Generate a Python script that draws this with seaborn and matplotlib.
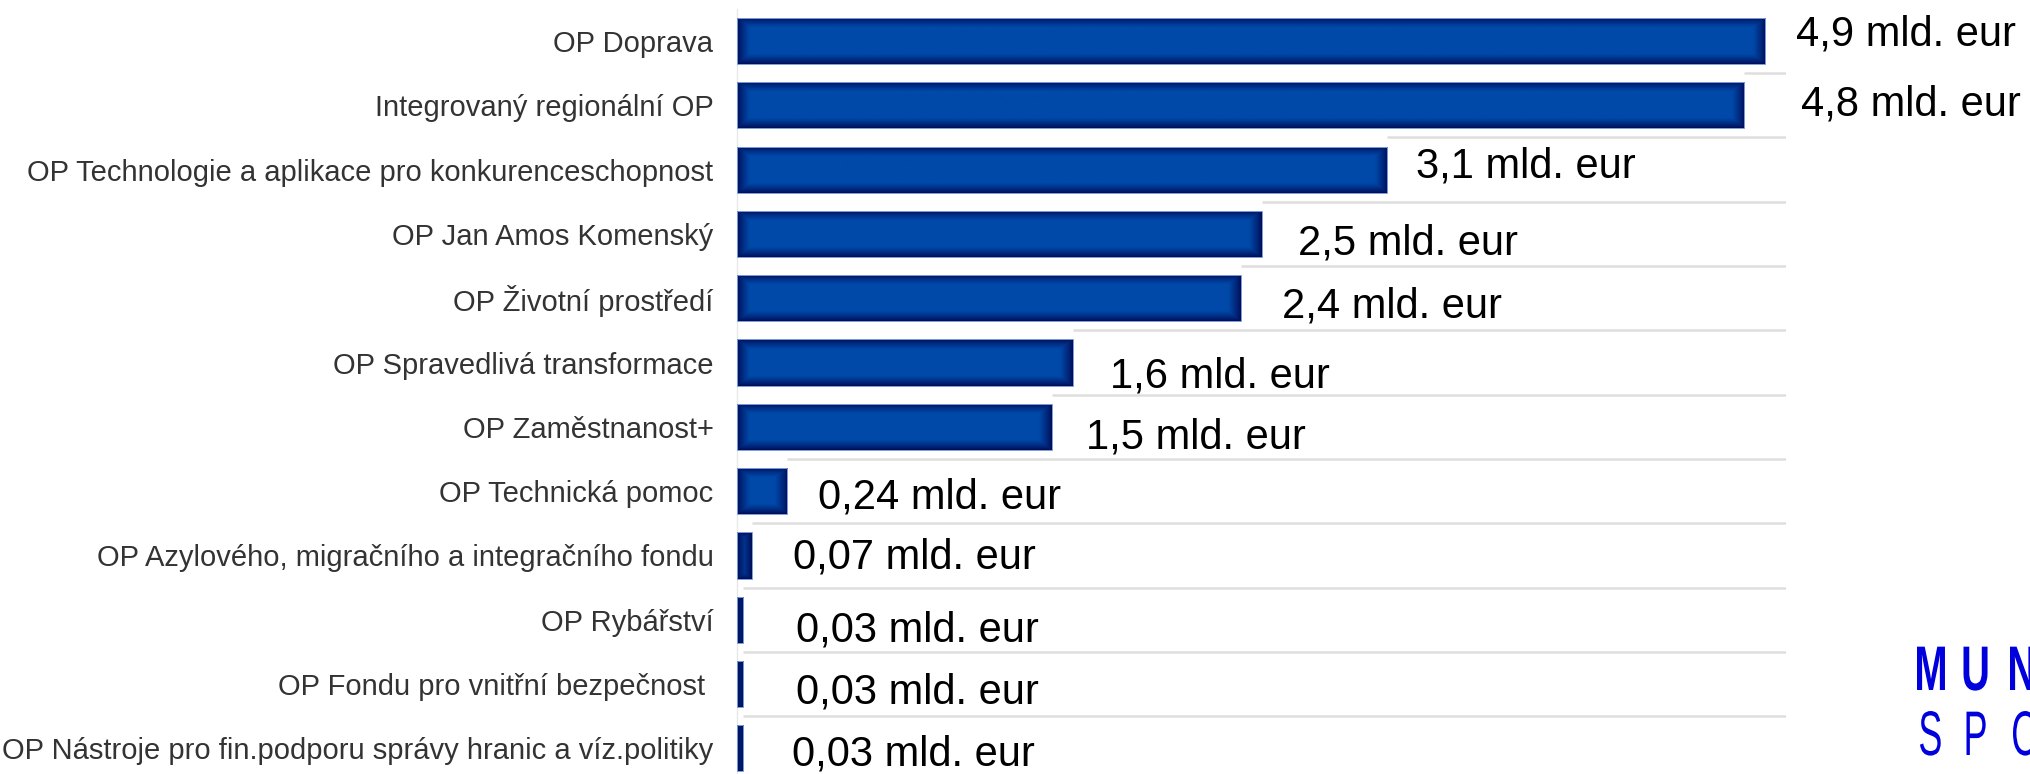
import numpy as np
import matplotlib
matplotlib.use("Agg")
import matplotlib.pyplot as plt
import seaborn as sns
from matplotlib.colors import to_rgb
from matplotlib.textpath import TextPath
from matplotlib.patches import PathPatch
from matplotlib.font_manager import FontProperties
from matplotlib.transforms import Affine2D

programy = [
    "OP Doprava",
    "Integrovaný regionální OP",
    "OP Technologie a aplikace pro konkurenceschopnost",
    "OP Jan Amos Komenský",
    "OP Životní prostředí",
    "OP Spravedlivá transformace",
    "OP Zaměstnanost+",
    "OP Technická pomoc",
    "OP Azylového, migračního a integračního fondu",
    "OP Rybářství",
    "OP Fondu pro vnitřní bezpečnost ",
    "OP Nástroje pro fin.podporu správy hranic a víz.politiky",
]
castky = [4.9, 4.8, 3.1, 2.5, 2.4, 1.6, 1.5, 0.24, 0.07, 0.03, 0.03, 0.03]
popisky = [
    "4,9 mld. eur", "4,8 mld. eur", "3,1 mld. eur", "2,5 mld. eur",
    "2,4 mld. eur", "1,6 mld. eur", "1,5 mld. eur", "0,24 mld. eur",
    "0,07 mld. eur", "0,03 mld. eur", "0,03 mld. eur", "0,03 mld. eur",
]

# posun popisku (px): mezera za koncem sloupce, baseline pod stredem sloupce
posun_x = [31, 57, 29, 37, 41, 37, 34, 31, 41, 53, 53, 49]
posun_y = [4, 10, 8, 21, 19, 25, 22, 17, 13, 22, 19, 17]

W, H = 2031, 774
X_MAX = 5.0

sns.set_style("white")
plt.rcParams["font.family"] = ["Liberation Sans", "DejaVu Sans"]

fig = plt.figure(figsize=(W / 100, H / 100), dpi=100)
ax = fig.add_axes([737 / W, (H - 780.5) / H, (1786 - 737) / W, 771.6 / H])

sns.barplot(x=castky, y=programy, orient="h", color="#0047a5", width=0.72,
            ax=ax, zorder=2)
ax.set_xlim(0, X_MAX)
ax.set_ylim(len(programy) - 0.5, -0.5)

# prechod barvy ve sloupcich (tmave okraje, svetlejsi stred)
p0 = ax.transData.transform((0, 0))
sx = ax.transData.transform((1, 0))[0] - p0[0]
sy = abs(ax.transData.transform((0, 1))[1] - p0[1])
tmava = np.array(to_rgb("#000a55"))
svetla = np.array(to_rgb("#0049a9"))
for p in list(ax.patches):
    x, y, w, h = p.get_x(), p.get_y(), p.get_width(), p.get_height()
    nx = max(int(round(w * sx)), 2)
    ny = max(int(round(h * sy)), 2)
    xx = np.arange(nx) + 0.5
    yy = np.arange(ny) + 0.5
    dx = np.minimum(xx, nx - xx)[None, :] / 13.0
    dy = np.minimum(yy, ny - yy)[:, None] / 10.0
    t = np.clip(np.minimum(dx, dy), 0, 1) ** 0.8
    img = tmava + (svetla - tmava) * t[..., None]
    im = ax.imshow(img, extent=(x, x + w, y + h, y), aspect="auto",
                   zorder=3, interpolation="bilinear")
    im.set_clip_path(p)
    # tenky svetly obrys nad prechodem
    p.set_facecolor("none")
    p.set_edgecolor("#7f9bd6")
    p.set_linewidth(0.7)
    p.set_zorder(4)

ax.set_xlim(0, X_MAX)
ax.set_ylim(len(programy) - 0.5, -0.5)

# mrizka mezi kategoriemi, viditelna az za koncem sloupce pod ni
for i in range(len(castky) - 1):
    ax.hlines(i + 0.5, castky[i + 1], X_MAX, color="#dedede", lw=1.8, zorder=1)

ax.set_yticks(np.arange(len(programy) - 1) + 0.5, minor=True)
ax.tick_params(axis="y", which="minor", length=17, width=1.8,
               color="#dedede", direction="out")
ax.tick_params(axis="y", which="major", length=0, pad=17,
               labelsize=21, labelcolor="#333333")
ax.set_xticks([])
ax.set_xlabel("")
ax.set_ylabel("")
for s in ["top", "right", "bottom"]:
    ax.spines[s].set_visible(False)
ax.spines["left"].set_color("#e8e8e8")
ax.spines["left"].set_linewidth(1)

for i, (v, s) in enumerate(zip(castky, popisky)):
    ax.annotate(s, xy=(v, i), xytext=(posun_x[i] * 0.72, -posun_y[i] * 0.72),
                textcoords="offset points", ha="left", va="baseline",
                fontsize=30, color="black", annotation_clip=False)

# logo vpravo dole (uzke pismena s prostrkanim)
logo_barva = "#0000dc"
def pismena(text, vaha, x0, base, sx_l, sy_l):
    fp = FontProperties(family="Liberation Sans", weight=vaha)
    for j, ch in enumerate(text):
        tp = TextPath((0, 0), ch, size=1, prop=fp)
        xmin = tp.get_extents().x0
        tr = Affine2D().translate(-xmin, 0).scale(sx_l, sy_l).translate(x0 + j * 46.5, H - base)
        fig.add_artist(PathPatch(tr.transform_path(tp), facecolor=logo_barva,
                                 edgecolor="none", transform=None))

pismena("MUNI", "bold", 1917, 690, 40, 63)
pismena("SPORT", "normal", 1920, 755, 36, 63)

fig.savefig("out.png", dpi=100)
